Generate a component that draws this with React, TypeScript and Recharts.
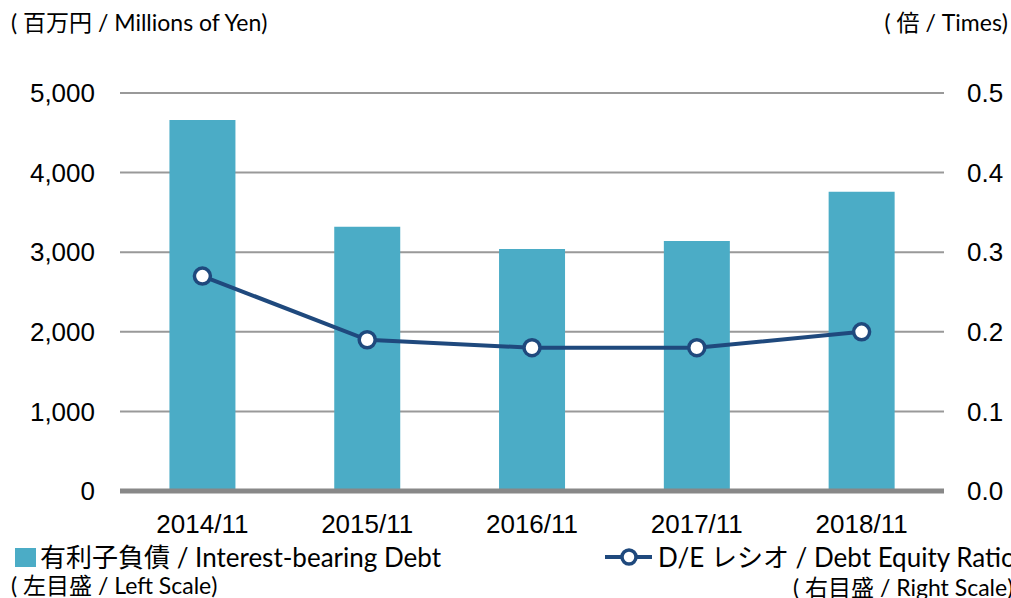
import {
  Bar,
  CartesianGrid,
  ComposedChart,
  Line,
  ReferenceLine,
  XAxis,
  YAxis,
} from "recharts";

const periods = ["2014/11", "2015/11", "2016/11", "2017/11", "2018/11"];
const debt = [4660, 3320, 3040, 3140, 3760];
const deRatio = [0.27, 0.19, 0.18, 0.18, 0.2];
const leftTicks = [0, 1000, 2000, 3000, 4000, 5000];
const rightTicks = [0, 0.1, 0.2, 0.3, 0.4, 0.5];

const BAR_COLOR = "#4bacc6";
const LINE_COLOR = "#1f497d";
const TEXT_FONT = 'Lato, "Noto Sans CJK JP", sans-serif';

const data = periods.map((period, i) => ({
  period,
  debt: debt[i],
  ratio: deRatio[i],
}));

const tickStyle = {
  fontFamily: '"Liberation Sans", Arial, sans-serif',
  fontSize: 26,
  fill: "#000",
};

const App = () => {
  return (
    <div
      style={{
        position: "absolute",
        left: 0,
        top: 0,
        width: 1011,
        height: 598,
        background: "#fff",
        overflow: "hidden",
      }}
    >
      <ComposedChart
        width={1011}
        height={598}
        data={data}
        margin={{ top: 93, right: 0, bottom: 57, left: 0 }}
        barCategoryGap="30%"
      >
        <CartesianGrid
          yAxisId="left"
          vertical={false}
          stroke="#999"
          strokeWidth={2}
        />
        <XAxis
          dataKey="period"
          axisLine={false}
          tickLine={false}
          tickMargin={18}
          height={50}
          tick={tickStyle}
        />
        <YAxis
          yAxisId="left"
          domain={[0, 5000]}
          ticks={leftTicks}
          tickFormatter={(v: number) => v.toLocaleString("en-US")}
          axisLine={false}
          tickLine={false}
          tickMargin={19}
          width={120}
          tick={tickStyle}
        />
        <YAxis
          yAxisId="right"
          orientation="right"
          domain={[0, 0.5]}
          ticks={rightTicks}
          tickFormatter={(v: number) => v.toFixed(1)}
          axisLine={false}
          tickLine={false}
          tickMargin={17}
          width={67}
          tick={tickStyle}
        />
        <Bar
          yAxisId="left"
          dataKey="debt"
          fill={BAR_COLOR}
          isAnimationActive={false}
        />
        <ReferenceLine yAxisId="left" y={0} stroke="#888" strokeWidth={5} />
        <Line
          yAxisId="right"
          dataKey="ratio"
          stroke={LINE_COLOR}
          strokeWidth={4}
          dot={{ r: 8, fill: "#fff", stroke: LINE_COLOR, strokeWidth: 3.5 }}
          isAnimationActive={false}
        />
      </ComposedChart>

      <div
        style={{
          position: "absolute",
          left: 11,
          top: 6,
          fontFamily: TEXT_FONT,
          fontSize: 23,
          lineHeight: "32px",
          whiteSpace: "nowrap",
        }}
      >
        ( 百万円 / Millions of Yen)
      </div>
      <div
        style={{
          position: "absolute",
          right: 3,
          top: 6,
          fontFamily: TEXT_FONT,
          fontSize: 23,
          lineHeight: "32px",
          whiteSpace: "nowrap",
        }}
      >
        ( 倍 / Times)
      </div>

      <div
        style={{
          position: "absolute",
          left: 15,
          top: 540,
          fontFamily: TEXT_FONT,
          fontSize: 26,
          lineHeight: "34px",
          whiteSpace: "nowrap",
          display: "flex",
          alignItems: "center",
        }}
      >
        <span
          style={{
            display: "inline-block",
            width: 21,
            height: 19,
            background: BAR_COLOR,
            marginRight: 4,
          }}
        />
        有利子負債 / Interest-bearing Debt
      </div>
      <div
        style={{
          position: "absolute",
          left: 11,
          top: 570,
          fontFamily: TEXT_FONT,
          fontSize: 23,
          lineHeight: "30px",
          whiteSpace: "nowrap",
        }}
      >
        ( 左目盛 / Left Scale)
      </div>

      <div
        style={{
          position: "absolute",
          left: 605,
          top: 540,
          fontFamily: TEXT_FONT,
          fontSize: 26,
          lineHeight: "34px",
          whiteSpace: "nowrap",
          display: "flex",
          alignItems: "center",
        }}
      >
        <svg width={47} height={20} style={{ marginRight: 6 }}>
          <line x1={0} y1={10} x2={47} y2={10} stroke={LINE_COLOR} strokeWidth={4} />
          <circle cx={24} cy={10} r={7} fill="#fff" stroke={LINE_COLOR} strokeWidth={3.5} />
        </svg>
        D/E レシオ / Debt Equity Ratio
      </div>
      <div
        style={{
          position: "absolute",
          left: 793,
          top: 572,
          fontFamily: TEXT_FONT,
          fontSize: 23,
          lineHeight: "30px",
          whiteSpace: "nowrap",
        }}
      >
        ( 右目盛 / Right Scale)
      </div>
    </div>
  );
};

export default App;
